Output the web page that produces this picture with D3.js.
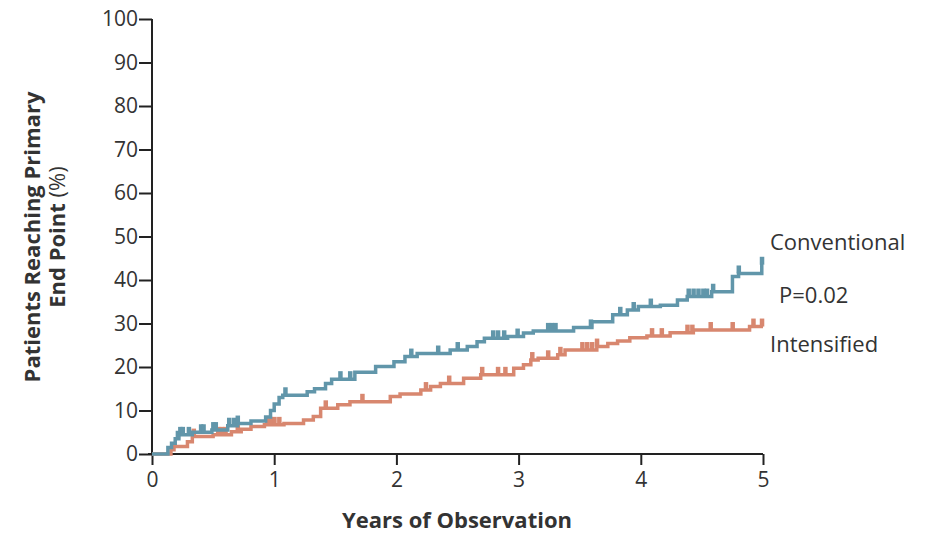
<!DOCTYPE html>
<html>
<head>
<meta charset="utf-8">
<script src="https://cdn.jsdelivr.net/npm/d3@7"></script>
<style>
  body { margin: 0; background: #fff; }
  text { font-family: "Open Sans", "Noto Sans", sans-serif; fill: #333; }
</style>
</head>
<body>
<div id="container"></div>
<script>
// step points [years, percent]
const conventional = [
  [0, 0], [0.13, 1.5], [0.16, 2.5], [0.19, 3.5], [0.22, 4.4], [0.33, 5.0], [0.49, 5.5],
  [0.62, 6.5], [0.70, 7.0], [0.81, 7.6], [0.93, 8.5], [0.97, 10], [1.0, 11.5], [1.04, 13.0],
  [1.07, 13.5], [1.27, 14.3], [1.33, 15.0], [1.42, 16.2], [1.47, 17.2], [1.66, 18.8],
  [1.83, 20.1], [1.98, 21.2], [2.07, 22.4], [2.17, 23.1], [2.44, 23.9], [2.58, 24.7],
  [2.66, 25.8], [2.72, 26.6], [2.91, 27.0], [3.04, 27.8], [3.12, 28.3], [3.45, 29.1],
  [3.6, 30.4], [3.77, 32.0], [3.89, 33.1], [3.98, 33.9], [4.16, 34.2], [4.3, 35.4],
  [4.38, 36.2], [4.58, 37.3], [4.75, 40.8], [4.8, 41.5], [4.99, 43.5], [5.0, 43.5]
]
const intensified = [
  [0, 0], [0.155, 1.0], [0.18, 1.7], [0.29, 2.8], [0.33, 4.0], [0.5, 4.4], [0.65, 5.1],
  [0.73, 5.7], [0.81, 6.3], [0.92, 6.7], [1.08, 7.0], [1.24, 7.8], [1.32, 8.6], [1.38, 10.5],
  [1.52, 11.3], [1.62, 12.0], [1.95, 13.2], [2.03, 13.8], [2.2, 14.7], [2.28, 15.5],
  [2.36, 16.2], [2.55, 17.4], [2.69, 18.2], [2.96, 19.7], [3.04, 20.5], [3.1, 21.6],
  [3.16, 22.0], [3.32, 22.8], [3.38, 23.9], [3.64, 24.7], [3.73, 25.4], [3.81, 26.0],
  [3.91, 26.7], [4.05, 27.1], [4.24, 27.9], [4.43, 28.5], [4.89, 29.3], [5.0, 29.3]
]
// censored observations (years)
const conventionalCensored = [0.21, 0.23, 0.25, 0.30, 0.40, 0.42, 0.50, 0.52, 0.63, 0.67, 0.70,
  1.09, 1.54, 1.62, 2.12, 2.34, 2.5, 2.79, 2.83, 2.88, 2.99, 3.24, 3.27, 3.30, 3.59, 3.83,
  3.94, 4.08, 4.39, 4.43, 4.47, 4.51, 4.54, 4.59, 4.8, 4.99]
const intensifiedCensored = [0.34, 0.54, 0.57, 0.60, 0.70, 0.94, 0.97, 1.0, 1.04, 1.42, 1.72,
  2.24, 2.43, 2.70, 2.83, 2.89, 3.11, 3.24, 3.34, 3.52, 3.56, 3.60, 3.64, 4.09, 4.17, 4.38,
  4.42, 4.57, 4.75, 4.92, 4.99]
const xTicks = [0, 1, 2, 3, 4, 5]
const yTicks = [0, 10, 20, 30, 40, 50, 60, 70, 80, 90, 100]

const w = 925
const h = 536
const blue = "#6196aa"
const salmon = "#d8876f"

const x = d3.scaleLinear().domain([0, 5]).range([152, 763])
const y = d3.scaleLinear().domain([0, 100]).range([454, 19])

const svg = d3.select("#container").append("svg")
  .attr("width", w)
  .attr("height", h)

// axes
const yAxis = svg.append("g")
  .attr("transform", `translate(${x(0)},0)`)
  .call(d3.axisLeft(y).tickValues(yTicks).tickSize(13).tickPadding(1))
const xAxis = svg.append("g")
  .attr("transform", `translate(0,${y(0)})`)
  .call(d3.axisBottom(x).tickValues(xTicks).tickFormat(d3.format("d")).tickSize(11).tickPadding(7))

for (const g of [xAxis, yAxis]) {
  g.select(".domain").attr("stroke", "#222").attr("stroke-width", 2)
  g.selectAll(".tick line").attr("stroke", "#222").attr("stroke-width", 2)
  g.selectAll(".tick text").attr("font-size", 21).attr("fill", "#3a3a3a")
    .attr("font-family", "'Open Sans', sans-serif")
}
yAxis.select(".domain").attr("d", `M0,${y(100)}V${y(0)}`)
xAxis.select(".domain").attr("d", `M${x(0) - 4},0H${x(5)}`)

// curves
const line = d3.line().x(d => x(d[0])).y(d => y(d[1])).curve(d3.curveStepAfter)

function stepValue(series, t) {
  let v = 0
  for (const d of series) if (d[0] <= t) v = d[1]
  return v
}

function drawSeries(series, censored, color) {
  svg.append("path")
    .datum(series)
    .attr("fill", "none")
    .attr("stroke", color)
    .attr("stroke-width", 3.5)
    .attr("d", line)
  svg.append("g").selectAll("rect")
    .data(censored)
    .enter()
    .append("rect")
    .attr("x", d => x(d) - 2)
    .attr("y", d => y(stepValue(series, d)) - 8)
    .attr("width", 4.5)
    .attr("height", 8)
    .attr("fill", color)
}

drawSeries(intensified, intensifiedCensored, salmon)
drawSeries(conventional, conventionalCensored, blue)

// labels
svg.append("text").attr("x", 770).attr("y", 250).attr("font-size", 22).text("Conventional")
svg.append("text").attr("x", 779).attr("y", 303).attr("font-size", 22).text("P=0.02")
svg.append("text").attr("x", 770).attr("y", 352).attr("font-size", 22).text("Intensified")

svg.append("text")
  .attr("x", 457).attr("y", 528)
  .attr("text-anchor", "middle")
  .attr("font-size", 22).attr("font-weight", "bold")
  .text("Years of Observation")

const yTitle = svg.append("text")
  .attr("transform", "translate(40,237) rotate(-90)")
  .attr("text-anchor", "middle")
  .attr("font-size", 22).attr("font-weight", "bold")
yTitle.append("tspan").attr("x", 0).attr("dy", 0).text("Patients Reaching Primary")
const l2 = yTitle.append("tspan").attr("x", 0).attr("dy", 25)
l2.append("tspan").text("End Point ")
l2.append("tspan").attr("font-weight", "normal").text("(%)")
</script>
</body>
</html>
